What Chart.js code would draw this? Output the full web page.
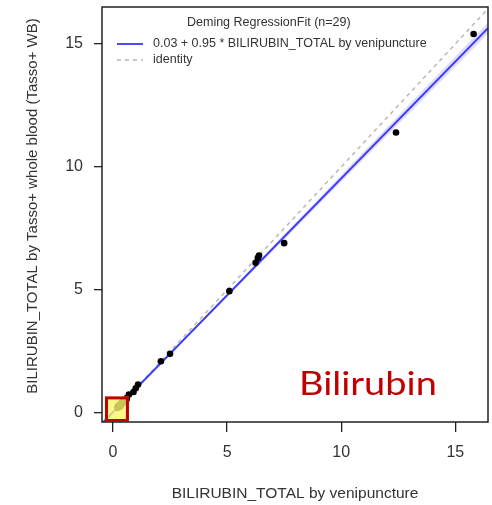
<!DOCTYPE html>
<html>
<head>
<meta charset="utf-8">
<title>Bilirubin Deming regression</title>
<script src="https://cdn.jsdelivr.net/npm/chart.js@4/dist/chart.umd.min.js"></script>
<style>
  html, body { margin: 0; padding: 0; background: #fff; }
  #wrap { width: 492px; height: 505px; }
</style>
</head>
<body>
<div id="wrap"><canvas id="bili"></canvas></div>
<script>
// paired measurements: venipuncture (x) vs Tasso+ whole blood (y)
const venipuncture = [15.8, 12.4, 7.5, 6.4, 6.35, 6.25, 5.1, 2.5, 2.1, 1.1, 1.0, 0.9, 0.7, 0.6,
  0.2, 0.25, 0.3, 0.3, 0.35, 0.4, 0.4, 0.45, 0.5, 0.5, 0.55, 0.3, 0.2, 0.6, 0.45];
const tassoWB = [15.4, 11.4, 6.9, 6.4, 6.3, 6.1, 4.95, 2.4, 2.1, 1.15, 1.0, 0.85, 0.75, 0.6,
  0.2, 0.3, 0.25, 0.35, 0.3, 0.4, 0.45, 0.4, 0.5, 0.45, 0.55, 0.3, 0.25, 0.55, 0.5];

// Deming fit: intercept + slope * x, with a confidence band on the slope
const fitIntercept = 0.03;
const fitSlope = 0.95;
const bandSlope = [0.936, 0.964];

const xTicks = [0, 5, 10, 15];
const yTicks = [0, 5, 10, 15];
const xRange = [-0.48, 16.43];
const yRange = [-0.37, 16.5];

// highlighted low-range region (data units)
const zoomBox = { x: [-0.35, 0.7], y: [-0.37, 0.67] };

const lineAt = (a, b) => xRange.map(x => ({ x: x, y: a + b * x }));

const points = venipuncture.map((x, i) => ({ x: x, y: tassoWB[i] }));

const overlay = {
  id: 'overlay',
  afterDatasetsDraw(chart) {
    const ctx = chart.ctx;
    const ca = chart.chartArea;
    const xs = chart.scales.x, ys = chart.scales.y;
    ctx.save();

    // plot frame
    ctx.strokeStyle = '#222';
    ctx.lineWidth = 1.5;
    ctx.strokeRect(ca.left, ca.top, ca.right - ca.left, ca.bottom - ca.top);

    // y axis title (sits a little above the panel centre)
    ctx.save();
    ctx.fillStyle = '#333';
    ctx.font = "15px 'Liberation Sans', Arial, sans-serif";
    ctx.textAlign = 'center';
    ctx.textBaseline = 'middle';
    ctx.translate(33, 206);
    ctx.rotate(-Math.PI / 2);
    ctx.fillText('BILIRUBIN_TOTAL by Tasso+ whole blood (Tasso+ WB)', 0, 0);
    ctx.restore();

    // legend inside the panel
    ctx.fillStyle = '#333';
    ctx.font = "12.5px 'Liberation Sans', Arial, sans-serif";
    ctx.textBaseline = 'middle';
    ctx.textAlign = 'left';
    ctx.fillText('Deming RegressionFit (n=29)', 187, 23);
    ctx.fillText('0.03 + 0.95 * BILIRUBIN_TOTAL by venipuncture', 153, 44);
    ctx.fillText('identity', 153, 60);

    ctx.strokeStyle = '#4a4aff';
    ctx.lineWidth = 2;
    ctx.beginPath(); ctx.moveTo(117, 44); ctx.lineTo(143, 44); ctx.stroke();

    ctx.strokeStyle = '#b8b8b8';
    ctx.lineWidth = 1.5;
    ctx.setLineDash([4, 4]);
    ctx.beginPath(); ctx.moveTo(117, 60); ctx.lineTo(143, 60); ctx.stroke();
    ctx.setLineDash([]);

    // highlight box over the low range
    const bx0 = xs.getPixelForValue(zoomBox.x[0]);
    const bx1 = xs.getPixelForValue(zoomBox.x[1]);
    const by0 = ys.getPixelForValue(zoomBox.y[1]);
    const by1 = ys.getPixelForValue(zoomBox.y[0]);
    ctx.fillStyle = 'rgba(250, 245, 110, 0.8)';
    ctx.fillRect(bx0, by0, bx1 - bx0, by1 - by0);
    ctx.strokeStyle = '#c00000';
    ctx.lineWidth = 3;
    ctx.strokeRect(bx0 + 1.5, by0 + 1.5, bx1 - bx0 - 3, by1 - by0 - 3);

    // panel label
    ctx.fillStyle = '#c00000';
    ctx.font = "33px Lato, 'Open Sans', sans-serif";
    ctx.textBaseline = 'alphabetic';
    ctx.translate(299, 395);
    ctx.scale(1.15, 1);
    ctx.fillText('Bilirubin', 0, 0);

    ctx.restore();
  }
};

Chart.defaults.font.family = "'Liberation Sans', Arial, sans-serif";
Chart.defaults.color = '#333';

new Chart(document.getElementById('bili'), {
  type: 'scatter',
  data: {
    datasets: [
      {
        label: 'points',
        data: points,
        backgroundColor: '#000',
        borderWidth: 0,
        pointRadius: 3.3,
        order: 0
      },
      {
        label: 'fit',
        data: lineAt(fitIntercept, fitSlope),
        showLine: true,
        borderColor: '#3a3aff',
        borderWidth: 2,
        pointRadius: 0,
        order: 1
      },
      {
        label: 'identity',
        data: lineAt(0, 1),
        showLine: true,
        borderColor: '#b8b8b8',
        borderWidth: 1.5,
        borderDash: [4, 4],
        pointRadius: 0,
        order: 2
      },
      {
        label: 'band upper',
        data: lineAt(fitIntercept, bandSlope[1]),
        showLine: true,
        borderWidth: 0,
        borderColor: 'rgba(0,0,0,0)',
        backgroundColor: 'rgba(165, 155, 240, 0.35)',
        fill: '+1',
        pointRadius: 0,
        order: 3
      },
      {
        label: 'band lower',
        data: lineAt(fitIntercept, bandSlope[0]),
        showLine: true,
        borderWidth: 0,
        borderColor: 'rgba(0,0,0,0)',
        pointRadius: 0,
        order: 4
      }
    ]
  },
  options: {
    responsive: true,
    maintainAspectRatio: false,
    animation: false,
    layout: { padding: { top: 7, right: 2, left: 0, bottom: 0 } },
    plugins: {
      legend: { display: false },
      tooltip: { enabled: false }
    },
    scales: {
      x: {
        type: 'linear',
        min: xRange[0],
        max: xRange[1],
        afterBuildTicks: s => { s.ticks = xTicks.map(v => ({ value: v })); },
        afterFit: s => { s.height = 83; s.paddingLeft = 0; s.paddingRight = 0; },
        grid: { drawOnChartArea: false, tickLength: 10, color: '#222', lineWidth: 1.3 },
        border: { display: false },
        ticks: { font: { size: 16 }, padding: 11, maxRotation: 0 },
        title: {
          display: true,
          text: 'BILIRUBIN_TOTAL by venipuncture',
          font: { size: 15.5 },
          padding: { top: 0, bottom: 2 }
        }
      },
      y: {
        type: 'linear',
        min: yRange[0],
        max: yRange[1],
        afterBuildTicks: s => { s.ticks = yTicks.map(v => ({ value: v })); },
        afterFit: s => { s.width = 102; s.paddingTop = 0; s.paddingBottom = 0; },
        grid: { drawOnChartArea: false, tickLength: 8, color: '#222', lineWidth: 1.3 },
        border: { display: false },
        ticks: { font: { size: 16 }, padding: 11 }
      }
    }
  },
  plugins: [overlay]
});
</script>
</body>
</html>
